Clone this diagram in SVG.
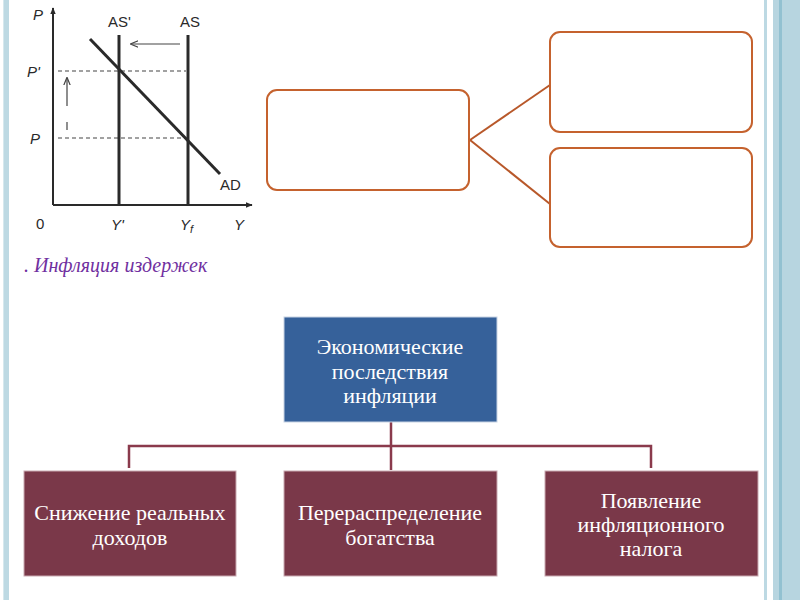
<svg xmlns="http://www.w3.org/2000/svg" width="800" height="600" viewBox="0 0 800 600">
<defs>
<style>
.ax{stroke:#2a2a2a;stroke-width:2;fill:none}
.ln{stroke:#2a2a2a;stroke-width:3;fill:none}
.ds{stroke:#444;stroke-width:1.2;stroke-dasharray:4,3;fill:none}
.lb{font-family:"Liberation Sans",Arial,sans-serif;font-size:15px;fill:#2a2a2a}
.it{font-style:italic}
.ob{fill:#fff;stroke:#c5622e;stroke-width:2}
.oc{stroke:#b8582a;stroke-width:2;fill:none}
.bb{fill:#36619a;stroke:#c8d4e4;stroke-width:1}
.mb{fill:#7a3849;stroke:#c9a9b1;stroke-width:1}
.tx{font-family:"Liberation Serif","Times New Roman",serif;font-size:22px;fill:#fff;text-anchor:middle}
.cn{stroke:#8a3a4c;stroke-width:2.5;fill:none}
</style>
<marker id="ah" viewBox="0 0 10 10" refX="9" refY="5" markerWidth="7" markerHeight="7" orient="auto-start-reverse" markerUnits="userSpaceOnUse">
<path d="M0,1 L10,5 L0,9 Z" fill="#2a2a2a"/>
</marker>
<marker id="sa" viewBox="0 0 10 10" refX="9" refY="5" markerWidth="8" markerHeight="8" orient="auto" markerUnits="userSpaceOnUse">
<path d="M0,1 L10,5 L0,9" fill="none" stroke="#444" stroke-width="1.5"/>
</marker>
</defs>
<rect width="800" height="600" fill="#fff"/>
<!-- side strips -->
<rect x="3" y="0" width="6" height="600" fill="#bdd9e3"/>
<rect x="3" y="0" width="1" height="600" fill="#d6e8ee"/>
<rect x="764" y="0" width="3" height="600" fill="#bdd9e3"/>
<rect x="773" y="0" width="27" height="600" fill="#b7d5e0"/>
<rect x="779" y="0" width="3" height="600" fill="#92c1d1"/>

<!-- chart -->
<g id="chart">
<line class="ax" x1="53" y1="205" x2="53" y2="8" marker-end="url(#ah)"/>
<line class="ax" x1="53" y1="205" x2="252" y2="205" marker-end="url(#ah)"/>
<line class="ds" x1="58" y1="71" x2="186" y2="71"/>
<line class="ds" x1="58" y1="138" x2="186" y2="138"/>
<line class="ln" x1="119" y1="35" x2="119" y2="205"/>
<line class="ln" x1="188" y1="35" x2="188" y2="205"/>
<line class="ln" x1="90" y1="39" x2="220" y2="174"/>
<line x1="180" y1="44" x2="131" y2="44" stroke="#444" stroke-width="1.2" marker-end="url(#sa)"/>
<line x1="67" y1="106" x2="67" y2="78" stroke="#444" stroke-width="1.2" marker-end="url(#sa)"/>
<line x1="67" y1="122" x2="67" y2="130" stroke="#444" stroke-width="1.2"/>
<text class="lb it" x="33" y="20">P</text>
<text class="lb" x="108" y="27">AS'</text>
<text class="lb" x="180" y="27">AS</text>
<text class="lb it" x="27" y="77">P'</text>
<text class="lb it" x="30" y="144">P</text>
<text class="lb" x="220" y="190">AD</text>
<text class="lb" x="36" y="229">0</text>
<text class="lb it" x="111" y="230">Y'</text>
<text class="lb it" x="180" y="230">Y<tspan font-size="11" dy="3">f</tspan></text>
<text class="lb it" x="234" y="230">Y</text>
</g>
<text x="24" y="272" font-family="Liberation Serif,'Times New Roman',serif" font-size="20" font-style="italic" fill="#7030a0">. Инфляция издержек</text>

<!-- orange boxes -->
<g id="conn-top">
<line class="oc" x1="470" y1="140" x2="550" y2="85"/>
<line class="oc" x1="470" y1="140" x2="550" y2="204"/>
</g>
<g id="box-left"><rect class="ob" x="267" y="90" width="202" height="100" rx="10"/></g>
<g id="box-rt"><rect class="ob" x="550" y="32" width="202" height="100" rx="10"/></g>
<g id="box-rb"><rect class="ob" x="550" y="148" width="202" height="99" rx="10"/></g>

<!-- hierarchy -->
<g id="connectors">
<line class="cn" x1="391" y1="422" x2="391" y2="470"/>
<polyline class="cn" points="129,468 129,446 651,446 651,468"/>
</g>
<g id="top">
<rect class="bb" x="284" y="317" width="213" height="105"/>
<text class="tx" x="390" y="354">Экономические</text>
<text class="tx" x="390" y="379">последствия</text>
<text class="tx" x="390" y="403">инфляции</text>
</g>
<g id="b1">
<rect class="mb" x="24" y="471" width="212" height="105"/>
<text class="tx" x="130" y="520">Снижение реальных</text>
<text class="tx" x="130" y="545">доходов</text>
</g>
<g id="b2">
<rect class="mb" x="284" y="471" width="213" height="105"/>
<text class="tx" x="390" y="520">Перераспределение</text>
<text class="tx" x="390" y="545">богатства</text>
</g>
<g id="b3">
<rect class="mb" x="545" y="471" width="213" height="105"/>
<text class="tx" x="651" y="508">Появление</text>
<text class="tx" x="651" y="532">инфляционного</text>
<text class="tx" x="651" y="556">налога</text>
</g>
</svg>
